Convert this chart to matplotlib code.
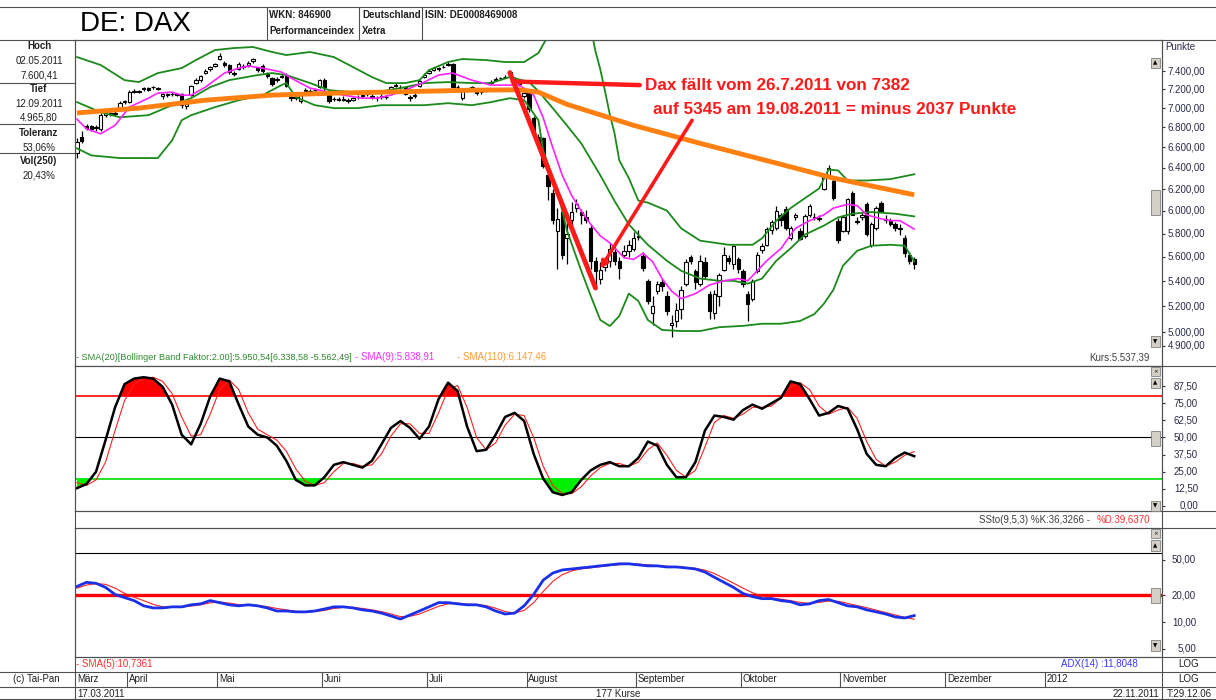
import matplotlib
matplotlib.use("Agg")
import matplotlib.pyplot as plt
from matplotlib.lines import Line2D
from matplotlib.patches import Rectangle
from matplotlib.ticker import NullLocator
import numpy as np

plt.rcParams['font.family'] = ['Liberation Sans', 'DejaVu Sans']

# DAX daily candles 17.03.2011 - 22.11.2011 (177 Kurse)
opens = [6540, 6700, 6820, 6810, 6790, 6780, 6930, 6950, 6940, 7000,
         7060, 7065, 7175, 7175, 7200, 7210, 7230, 7210, 7130, 7140,
         7150, 7140, 7150, 7020, 7140, 7270, 7300, 7380, 7420, 7460,
         7540, 7490, 7470, 7370, 7420, 7460, 7470, 7510, 7430, 7460,
         7370, 7320, 7300, 7340, 7360, 7120, 7110, 7070, 7180, 7170,
         7190, 7220, 7300, 7140, 7100, 7100, 7100, 7090, 7090, 7120,
         7130, 7150, 7130, 7110, 7120, 7120, 7170, 7240, 7230, 7220,
         7120, 7130, 7240, 7330, 7380, 7410, 7430, 7440, 7470, 7480,
         7230, 7110, 7190, 7210, 7170, 7170, 7190, 7270, 7300, 7320,
         7330, 7390, 7300, 7270, 7130, 7170, 6900, 6700, 6690, 6330,
         6160, 5820, 5990, 5760, 5915, 6030, 5990, 5945, 5850, 5570,
         5420, 5520, 5570, 5640, 5570, 5620, 5650, 5670, 5770, 5610,
         5400, 5150, 5320, 5390, 5280, 5060, 5090, 5180, 5380, 5600,
         5480, 5380, 5560, 5300, 5150, 5280, 5490, 5590, 5540, 5580,
         5480, 5300, 5260, 5480, 5660, 5700, 5830, 5850, 5960, 6020,
         5760, 5945, 5825, 5780, 5965, 5950, 5925, 6205, 6330, 6280,
         5913, 5825, 5825, 6160, 5900, 5950, 6060, 5703, 5845, 6075,
         5925, 5910, 5880, 5845, 5760, 5617, 5580]
highs = [6690, 6760, 6840, 6830, 6830, 6950, 6980, 6970, 6980, 7070,
         7090, 7190, 7200, 7195, 7230, 7225, 7240, 7225, 7165, 7165,
         7170, 7165, 7160, 7060, 7250, 7320, 7360, 7420, 7460, 7490,
         7600, 7510, 7480, 7400, 7500, 7480, 7510, 7550, 7450, 7480,
         7390, 7340, 7330, 7370, 7380, 7140, 7140, 7170, 7210, 7200,
         7210, 7310, 7320, 7150, 7120, 7120, 7130, 7110, 7120, 7140,
         7150, 7170, 7150, 7130, 7150, 7140, 7240, 7270, 7250, 7230,
         7140, 7160, 7300, 7380, 7420, 7440, 7450, 7470, 7500, 7490,
         7250, 7200, 7210, 7240, 7190, 7190, 7210, 7300, 7330, 7340,
         7360, 7410, 7330, 7290, 7170, 7200, 6920, 6730, 6700, 6380,
         6200, 6030, 6050, 5990, 6080, 6110, 6020, 6010, 5880, 5600,
         5560, 5600, 5720, 5700, 5600, 5700, 5740, 5810, 5830, 5640,
         5420, 5280, 5400, 5420, 5320, 5130, 5230, 5360, 5580, 5620,
         5500, 5620, 5600, 5320, 5330, 5470, 5680, 5620, 5700, 5600,
         5500, 5320, 5420, 5640, 5720, 5860, 5920, 6040, 5980, 6040,
         5870, 5980, 5850, 5970, 6060, 5980, 5960, 6340, 6430, 6290,
         5940, 5960, 6120, 6180, 5950, 5980, 6080, 5900, 6040, 6090,
         5960, 5940, 5900, 5880, 5790, 5640, 5600]
lows = [6500, 6640, 6770, 6760, 6760, 6760, 6910, 6920, 6920, 6990,
        7040, 7050, 7160, 7160, 7185, 7180, 7205, 7190, 7100, 7120,
        7130, 7125, 7000, 6990, 7130, 7260, 7280, 7370, 7400, 7440,
        7520, 7450, 7370, 7350, 7410, 7420, 7450, 7490, 7390, 7380,
        7320, 7240, 7280, 7320, 7230, 7070, 7090, 7050, 7160, 7150,
        7170, 7210, 7180, 7050, 7070, 7070, 7080, 7050, 7070, 7100,
        7110, 7130, 7100, 7070, 7100, 7100, 7160, 7220, 7200, 7140,
        7080, 7110, 7230, 7320, 7370, 7400, 7400, 7430, 7460, 7220,
        7200, 7090, 7170, 7200, 7140, 7150, 7170, 7260, 7290, 7300,
        7320, 7350, 7280, 7240, 7110, 6960, 6700, 6580, 6400, 6100,
        5880, 5500, 5580, 5540, 5850, 5990, 5880, 5890, 5500, 5345,
        5380, 5480, 5520, 5530, 5420, 5600, 5600, 5650, 5740, 5480,
        5220, 5060, 5300, 5320, 5130, 4966, 5040, 5100, 5360, 5540,
        5340, 5360, 5420, 5100, 5100, 5200, 5480, 5540, 5500, 5470,
        5350, 5090, 5240, 5470, 5630, 5690, 5800, 5830, 5870, 5830,
        5740, 5920, 5740, 5760, 5950, 5920, 5910, 6190, 6300, 6100,
        5720, 5810, 5800, 5960, 5880, 5920, 5780, 5680, 5830, 5990,
        5890, 5870, 5820, 5790, 5600, 5540, 5500]
closes = [6650, 6660, 6790, 6780, 6800, 6930, 6960, 6940, 6950, 7055,
          7075, 7170, 7180, 7182, 7215, 7195, 7220, 7200, 7150, 7150,
          7145, 7150, 7030, 7040, 7240, 7300, 7350, 7400, 7440, 7480,
          7570, 7470, 7390, 7380, 7480, 7440, 7490, 7530, 7410, 7400,
          7350, 7260, 7310, 7350, 7240, 7110, 7120, 7160, 7190, 7180,
          7190, 7300, 7220, 7070, 7095, 7090, 7090, 7080, 7110, 7120,
          7140, 7160, 7120, 7110, 7130, 7120, 7230, 7250, 7220, 7150,
          7110, 7140, 7290, 7360, 7400, 7430, 7420, 7450, 7480, 7230,
          7220, 7190, 7195, 7220, 7160, 7170, 7195, 7280, 7310, 7320,
          7335, 7382, 7300, 7260, 7160, 6990, 6730, 6640, 6420, 6230,
          5920, 5930, 5620, 5795, 5990, 6060, 5960, 5920, 5570, 5480,
          5490, 5545, 5665, 5570, 5510, 5650, 5700, 5760, 5780, 5510,
          5240, 5200, 5380, 5360, 5160, 5070, 5170, 5330, 5560, 5570,
          5390, 5570, 5440, 5160, 5300, 5450, 5620, 5570, 5690, 5500,
          5380, 5220, 5400, 5620, 5690, 5840, 5900, 6000, 5920, 5850,
          5845, 5960, 5750, 5955, 6045, 5940, 5935, 6328, 6400, 6115,
          5740, 5942, 6105, 5965, 5913, 5960, 5800, 5880, 6025, 6003,
          5915, 5880, 5850, 5840, 5630, 5570, 5537]

# Bollinger band (20, 2.0), SMA(9), SMA(110): bar index / points
bb_up_x = [0, 5, 10, 13, 17, 22, 25, 29, 33, 37, 41, 44, 49, 54, 58, 62, 65, 69, 72, 74,
           78, 81, 86, 90, 94, 97, 99, 102, 105, 108, 109, 110, 111, 112, 113, 114, 116, 118,
           120, 124, 127, 131, 137, 142, 144, 147, 150, 153, 156, 158, 160, 162, 166, 171, 176]
bb_up = [7557, 7467, 7300, 7279, 7378, 7433, 7523, 7637, 7660, 7672, 7615, 7580, 7615, 7557,
         7445, 7334, 7268, 7268, 7300, 7411, 7501, 7535, 7523, 7501, 7501, 7603, 7800, 8100,
         8200, 7900, 7620, 7420, 7180, 6935, 6740, 6472, 6303, 6094, 6075, 6003, 5845, 5738,
         5703, 5703, 5758, 5913, 6025, 6115, 6205, 6385, 6375, 6280, 6280, 6293, 6339]
bb_mid_x = [0, 5, 9, 15, 19, 24, 28, 32, 38, 41, 44, 49, 53, 58, 63, 68, 73, 78, 83, 87, 91,
            95, 97, 100, 103, 106, 110, 113, 116, 118, 120, 124, 127, 131, 135, 138, 141, 144,
            147, 150, 153, 157, 160, 163, 167, 172, 176]
bb_mid = [7063, 6957, 6905, 6926, 7010, 7105, 7224, 7300, 7356, 7378, 7356, 7268, 7191, 7170,
          7170, 7213, 7268, 7279, 7268, 7268, 7334, 7280, 7180, 7000, 6820, 6640, 6330, 6090,
          5880, 5790, 5703, 5568, 5485, 5421, 5403, 5403, 5380, 5421, 5568, 5672, 5790, 5869,
          5942, 5975, 5990, 5975, 5951]
bb_low_x = [0, 3, 9, 17, 20, 22, 24, 29, 34, 39, 43, 44, 46, 50, 54, 59, 64, 69, 73, 78, 83,
            87, 91, 94, 97, 98, 101, 103, 106, 108, 110, 112, 114, 116, 118, 120, 123, 127, 131,
            135, 140, 144, 148, 152, 155, 157, 159, 161, 164, 167, 171, 174, 176]
bb_low = [6590, 6521, 6495, 6495, 6670, 6874, 6926, 7010, 7084, 7138, 7246, 7268, 7116, 7031,
          7000, 7000, 7031, 7031, 7031, 7052, 7031, 7063, 7105, 7084, 6874, 6570, 6186, 5825,
          5485, 5282, 5095, 5049, 5125, 5300, 5242, 5095, 5019, 5011, 5011, 5040, 5050, 5066,
          5066, 5087, 5140, 5220, 5330, 5526, 5652, 5695, 5703, 5695, 5562]
sma9_x = [0, 2, 5, 8, 11, 15, 17, 20, 22, 24, 27, 31, 34, 36, 39, 43, 45, 49, 53, 56, 60, 63,
          66, 69, 73, 76, 79, 83, 87, 90, 93, 96, 98, 100, 102, 104, 106, 108, 110, 112, 115,
          117, 119, 121, 123, 125, 127, 130, 133, 136, 139, 141, 143, 145, 148, 151, 154, 157,
          159, 162, 164, 166, 169, 171, 173, 176]
sma9 = [6885, 6785, 6736, 6822, 7010, 7105, 7160, 7170, 7138, 7138, 7224, 7378, 7433, 7456,
        7433, 7389, 7323, 7213, 7170, 7138, 7105, 7105, 7138, 7191, 7279, 7356, 7378, 7300,
        7246, 7246, 7246, 7138, 6900, 6600, 6330, 6140, 6000, 5880, 5780, 5720, 5593, 5580,
        5630, 5560, 5420, 5320, 5260, 5300, 5370, 5403, 5421, 5403, 5485, 5568, 5672, 5845,
        5913, 5965, 6025, 6060, 6048, 5965, 5930, 5913, 5913, 5839]
sma110_x = [0, 13, 27, 41, 55, 69, 83, 93, 97, 103, 117, 131, 145, 159, 176]
sma110 = [6950, 7000, 7084, 7138, 7160, 7175, 7191, 7195, 7170, 7040, 6822, 6640, 6470, 6303, 6147]

# oscillators, read every second bar
osc_x = list(range(0, 177, 2))
sto_k = [13, 16, 25, 48, 72, 89, 93, 94, 93, 87, 74, 52, 45, 60, 80, 93, 91, 74, 58, 52,
         50, 44, 33, 19, 15, 15, 21, 30, 32, 30, 28, 33, 45, 57, 62, 57, 49, 58, 78, 90,
         84, 58, 40, 41, 52, 65, 68, 62, 38, 20, 10, 8, 10, 19, 26, 30, 32, 29, 29, 35,
         47, 44, 30, 21, 21, 32, 55, 66, 65, 63, 70, 74, 71, 75, 79, 91, 89, 78, 66, 68,
         73, 71, 56, 38, 30, 29, 35, 39, 36.33]
sto_d = [17, 15, 19, 32, 55, 77, 89, 93, 94, 91, 82, 65, 51, 52, 67, 85, 92, 85, 68, 56,
         52, 48, 40, 27, 18, 15, 17, 25, 31, 31, 29, 30, 38, 51, 60, 60, 53, 53, 68, 85,
         88, 72, 50, 41, 46, 59, 67, 66, 50, 29, 15, 9, 9, 14, 22, 28, 31, 31, 29, 32,
         41, 46, 37, 26, 21, 26, 43, 61, 66, 64, 67, 72, 72, 73, 79, 87, 90, 85, 73, 67,
         70, 72, 64, 47, 34, 29, 32, 37, 39.64]
adx = [25.1, 27.9, 27.2, 24.5, 20.4, 18.8, 17.4, 15.2, 14.4, 14.4,
       14.8, 14.8, 15.6, 16.0, 17.4, 16.5, 15.6, 15.2, 15.6, 15.2,
       14.4, 13.3, 13.3, 13.0, 13.0, 13.3, 14.0, 14.8, 14.8, 14.4,
       13.7, 13.3, 12.6, 11.7, 10.8, 12.0, 13.3, 14.8, 16.5, 16.5,
       16.0, 15.6, 15.6, 14.8, 13.3, 12.3, 12.6, 15.2, 20.4, 29.5,
       35.4, 38.4, 39.4, 40.5, 41.5, 42.7, 43.8, 45.0, 45.0, 43.8,
       42.7, 42.7, 41.5, 41.5, 40.5, 39.4, 36.4, 31.8, 27.9, 24.5,
       20.9, 19.3, 18.3, 18.3, 17.4, 16.9, 15.6, 16.0, 17.4, 17.9,
       16.5, 15.2, 14.8, 13.7, 13.0, 12.3, 11.4, 11.1, 11.80]
adx_sma = [24, 26, 27, 26.5, 24, 21, 19, 17.4, 15.8, 14.8,
           14.6, 14.7, 15.1, 15.6, 16.4, 16.8, 16.3, 15.7, 15.4, 15.3,
           14.9, 14.2, 13.7, 13.2, 13.0, 13.1, 13.5, 14.2, 14.6, 14.6,
           14.2, 13.7, 13.1, 12.3, 11.5, 11.6, 12.3, 13.6, 15.0, 16.0,
           16.3, 15.9, 15.7, 15.3, 14.3, 13.1, 12.6, 13.5, 16.5, 22,
           28.5, 34, 37.5, 39.5, 40.6, 41.8, 43.0, 44.0, 44.8, 44.6,
           43.8, 43.0, 42.2, 41.7, 41.0, 40.0, 38.3, 35.0, 31.0, 27.3,
           24.0, 21.3, 19.5, 18.6, 18.0, 17.4, 16.6, 16.2, 16.6, 17.2,
           17.1, 16.2, 15.3, 14.5, 13.6, 12.8, 12.0, 11.3, 10.74]

months = ['März', 'April', 'Mai', 'Juni', 'Juli', 'August', 'September',
          'Oktober', 'November', 'Dezember', '2012']
month_first_bar = [0, 11, 30, 52, 74, 95, 118, 140, 161, 183, 204]
price_ticks = [7400, 7200, 7000, 6800, 6600, 6400, 6200, 6000, 5800, 5600, 5400, 5200, 5000, 4900]
sto_ticks = [0, 12.5, 25, 37.5, 50, 62.5, 75, 87.5]
adx_ticks = [5, 10, 20, 50]
peak = (91, 7382)
trough = (109, 5345)

W, H = 1216, 700
X0, X1 = 75, 1162
BAR0, BARPX = 77, 4.757
XLIM = ((X0 - BAR0) / BARPX, (X1 - BAR0) / BARPX)
LBL = '#2a2a48'
GRID = '#505050'


def de(v):
    s = f"{v:,.2f}"
    return s.replace(',', '#').replace('.', ',').replace('#', '.')


def box(x0, y0, x1, y1):
    return [x0 / W, 1 - y1 / H, (x1 - x0) / W, (y1 - y0) / H]


fig = plt.figure(figsize=(W / 100, H / 100), dpi=100)
fig.patch.set_facecolor('white')


def ftext(x, y, s, **kw):
    kw.setdefault('fontsize', 7)
    kw.setdefault('va', 'center')
    fig.text(x / W, 1 - y / H, s, **kw)


def fline(xs, ys, color=GRID, lw=0.8):
    fig.add_artist(Line2D([x / W for x in xs], [1 - y / H for y in ys],
                          color=color, lw=lw, transform=fig.transFigure))


def button(x0, y0, x1, y1, glyph=''):
    fig.add_artist(Rectangle((x0 / W, 1 - y1 / H), (x1 - x0) / W, (y1 - y0) / H,
                             transform=fig.transFigure, facecolor='#d4d0c8',
                             edgecolor='#808080', lw=0.6, zorder=10))
    if glyph:
        fig.text((x0 + x1) / 2 / W, 1 - (y0 + y1) / 2 / H, glyph, ha='center', va='center',
                 fontsize=4, color='black', zorder=11, family='DejaVu Sans')


def panel(y0, y1):
    a = fig.add_axes(box(X0, y0, X1, y1))
    a.set_xlim(*XLIM)
    a.set_xticks([])
    for s in a.spines.values():
        s.set_color(GRID)
        s.set_linewidth(0.8)
    return a


def right_labels(a, ticks, texts, xr):
    a.yaxis.set_minor_locator(NullLocator())
    a.set_yticks(ticks)
    a.tick_params(axis='y', which='both', left=False, right=True, labelleft=False,
                  labelright=False, length=2, color='#333333')
    for t, s in zip(ticks, texts):
        a.text((xr - X0) / (X1 - X0), t, s, transform=a.get_yaxis_transform(),
               ha='right', va='center', fontsize=7, color=LBL)


# ---------------- price panel ----------------
ax = panel(40, 366)
ax.set_yscale('log')
ax.set_ylim(4755, 7753)
right_labels(ax, price_ticks, [de(v) for v in price_ticks], 1205)

idx = np.arange(len(closes))
o = np.array(opens, float)
c = np.array(closes, float)
up = c >= o
ax.vlines(idx, lows, highs, color='black', lw=0.9, zorder=2)
ax.bar(idx[up], np.maximum(c - o, 1)[up], bottom=o[up], width=0.72, color='white',
       edgecolor='black', lw=0.8, zorder=3)
ax.bar(idx[~up], (o - c)[~up], bottom=c[~up], width=0.72, color='black',
       edgecolor='black', lw=0.8, zorder=3)

ax.plot(bb_up_x, bb_up, color='#1a8a1a', lw=1.3, zorder=4)
ax.plot(bb_mid_x, bb_mid, color='#1a8a1a', lw=1.3, zorder=4)
ax.plot(bb_low_x, bb_low, color='#1a8a1a', lw=1.3, zorder=4)
ax.plot(sma9_x, sma9, color='#ff22ff', lw=1.2, zorder=5)
ax.plot(sma110_x, sma110, color='#ff8010', lw=3.5, zorder=5, solid_capstyle='butt')

red = '#ff1a1a'
ax.annotate('', xy=trough, xytext=peak,
            arrowprops=dict(arrowstyle='-', color=red, lw=3.5, shrinkA=0, shrinkB=0), zorder=6)
ax.annotate('', xy=(peak[0] + 0.6, 7285), xytext=(118.3, 7246),
            arrowprops=dict(arrowstyle='-', color=red, lw=3.2, shrinkA=0, shrinkB=0), zorder=6)
ax.annotate('', xy=(trough[0] + 1, 5500), xytext=(129.3, 6874),
            arrowprops=dict(arrowstyle='->', color=red, lw=2.6, shrinkA=0, shrinkB=0,
                            mutation_scale=10), zorder=6)
ax.text(119.4, 7246, 'Dax fällt vom 26.7.2011 von 7382', color=red, fontsize=12.3,
        fontweight='bold', va='center', ha='left', zorder=7)
ax.text(121.1, 6990, 'auf 5345 am 19.08.2011 = minus 2037 Punkte', color=red, fontsize=12.3,
        fontweight='bold', va='center', ha='left', zorder=7)

ftext(76, 357, '- SMA(20)[Bollinger Band Faktor:2.00]:5.950,54[6.338,58 -5.562,49]',
      color='#2e8b2e', fontsize=6.6)
ftext(355, 357, '- SMA(9):5.838,91', color='#ff30ff')
ftext(457, 357, '- SMA(110):6.147,46', color='#ff9a40')
ftext(1150, 358, 'Kurs:5.537,39', color='#404040', ha='right')
ftext(1165, 47, 'Punkte', color=LBL, ha='left')

# ---------------- stochastic panel ----------------
ax2 = panel(366, 511)
ax2.set_ylim(-3.7, 102.2)
right_labels(ax2, sto_ticks, [de(v) for v in sto_ticks], 1198)
k = np.array(sto_k)
ax2.axhline(80, color='#ff0000', lw=1.2, zorder=1)
ax2.axhline(50, color='black', lw=0.8, zorder=1)
ax2.axhline(20, color='#00dd00', lw=1.2, zorder=1)
ax2.fill_between(osc_x, k, 80, where=k >= 80, interpolate=True, color='#ff0000', lw=0, zorder=2)
ax2.fill_between(osc_x, k, 20, where=k <= 20, interpolate=True, color='#00ee00', lw=0, zorder=2)
ax2.plot(osc_x, sto_d, color='#ff2020', lw=0.8, zorder=3)
ax2.plot(osc_x, sto_k, color='black', lw=1.8, zorder=4)
ftext(1093, 520, 'SSto(9,5,3) %K:36,3266 - ', color='#404040', ha='right')
ftext(1150, 520, '%D:39,6370', color='#ff3030', ha='right')

# ---------------- ADX panel ----------------
ax3 = panel(528, 657)
ax3.set_yscale('log')
ax3.set_ylim(4.05, 113.6)
right_labels(ax3, adx_ticks, [de(v) for v in adx_ticks], 1196)
ax3.axhline(60, color='black', lw=0.8, zorder=1)
ax3.axhline(20, color='#ff0000', lw=2.4, zorder=1)
ax3.plot(osc_x, adx_sma, color='#ff2020', lw=0.8, zorder=3)
ax3.plot(osc_x, adx, color='#1a30e8', lw=2.0, zorder=4)
ftext(76, 664, '- SMA(5):10,7361', color='#ff3030')
ftext(1138, 664, 'ADX(14) :11,8048', color='#3a3aff', ha='right')

# ---------------- month row ----------------
axm = fig.add_axes(box(X0, 672, X1, 687))
axm.set_xlim(*XLIM)
axm.set_ylim(0, 1)
axm.axis('off')
for m, b in zip(months, month_first_bar):
    if b > 0:
        axm.axvline(b - 0.5, color=GRID, lw=0.8)
    axm.text(max(b - 0.5, XLIM[0]) + 0.4, 0.5, m, fontsize=7, va='center', ha='left', color='#202020')

# ---------------- frame lines ----------------
fline([0, W], [7, 7])
fline([0, W], [40, 40])
for xv in (266.5, 358.5, 421.5):
    fline([xv, xv], [7, 40])
fline([X0, X0], [40, 700])
fline([X1, X1], [40, 700])
for yv in (366, 511, 528, 657):
    fline([X0, W], [yv, yv])
for yv in (672, 687, 699):
    fline([0, W], [yv, yv])
for yv in (83, 124, 153):
    fline([0, X0], [yv, yv])

# header
ftext(135, 24, 'DE: DAX', fontsize=20, ha='center', color='black')
ftext(269, 15, 'WKN: 846900', fontweight='bold', color='#202020')
ftext(269, 31, 'Performanceindex', fontweight='bold', color='#202020')
ftext(362, 15, 'Deutschland', fontweight='bold', color='#202020')
ftext(362, 31, 'Xetra', fontweight='bold', color='#202020')
ftext(425, 15, 'ISIN: DE0008469008', fontweight='bold', color='#202020')

# left info column
info = [('Hoch', 46, 'bold'), ('02.05.2011', 61, 'normal'), ('7.600,41', 75, 'normal'),
        ('Tief', 89, 'bold'), ('12.09.2011', 104, 'normal'), ('4.965,80', 117, 'normal'),
        ('Toleranz', 133, 'bold'), ('53,06%', 147, 'normal'),
        ('Vol(250)', 161, 'bold'), ('20,43%', 176, 'normal')]
for s, yv, wt in info:
    ftext(39, yv, s, ha='center', fontweight=wt, color='#202020')

# bottom rows
ftext(36, 679, '(c) Tai-Pan', ha='center', color='#202020')
ftext(77, 694, '17.03.2011', color='#202020')
ftext(618, 694, '177 Kurse', ha='center', color='#202020')
ftext(1159, 694, '22.11.2011', ha='right', color='#202020')
ftext(1189, 664, 'LOG', ha='center', color='#202020')
ftext(1189, 679, 'LOG', ha='center', color='#202020')
ftext(1189, 694, 'T:29.12.06', ha='center', color='#202020')

# scroll widgets
button(1151, 58, 1160, 68, '▲')
button(1151, 190, 1160, 215)
button(1151, 336, 1160, 347, '▼')
button(1151, 367, 1160, 376, '×')
button(1151, 378, 1160, 388, '▲')
button(1151, 431, 1160, 446)
button(1151, 501, 1160, 511, '▼')
button(1151, 529, 1160, 538, '×')
button(1151, 540, 1160, 551, '▲')
button(1151, 588, 1160, 603)
button(1151, 640, 1160, 651, '▼')

fig.savefig('out.png', dpi=100)
